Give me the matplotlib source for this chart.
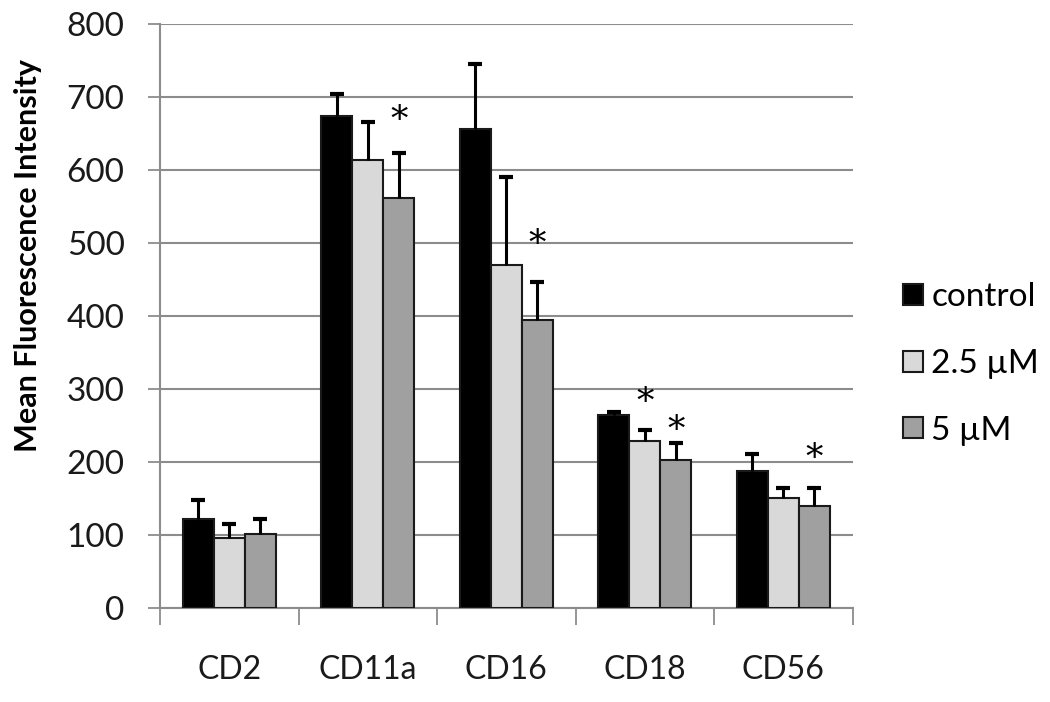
import numpy as np
from matplotlib import pyplot as plt

plt.rcParams['font.family'] = ['Lato', 'DejaVu Sans']

markers = ['CD2', 'CD11a', 'CD16', 'CD18', 'CD56']
groups = ['control', '2.5 µM', '5 µM']
colors = ['#000000', '#d9d9d9', '#a0a0a0']

# mean values per group
mfi = {
    'control': [121, 674, 656, 264, 187],
    '2.5 µM': [95, 614, 470, 229, 150],
    '5 µM': [101, 562, 394, 202, 140],
}
# upper error bar tops
err_top = {
    'control': [147, 704, 745, 268, 210],
    '2.5 µM': [115, 665, 590, 243, 164],
    '5 µM': [122, 623, 446, 226, 164],
}
# significance stars: (marker index, group index, y)
stars = [(1, 2, 667), (2, 2, 497), (3, 1, 281), (3, 2, 242), (4, 2, 204)]

fig = plt.figure(figsize=(10.5, 7.02), dpi=100)
ax = fig.add_axes([0.1524, 0.1343, 0.812 - 0.1524, 0.966 - 0.1343])

x = np.arange(len(markers))
w = 0.224
for i, g in enumerate(groups):
    xp = x + (i - 1) * w
    vals = np.array(mfi[g])
    tops = np.array(err_top[g])
    ax.bar(xp, vals, w, color=colors[i], edgecolor='#1a1a1a',
           linewidth=1.5, label=g, zorder=3)
    # only the upper half of the error bar, with a cap
    ax.vlines(xp, vals, tops, color='black', lw=2.2, zorder=4)
    ax.scatter(xp, tops, marker='_', s=90, linewidths=3, color='black', zorder=4)

for mi, gi, yv in stars:
    ax.text(x[mi] + (gi - 1) * w, yv, '*', ha='center', va='center',
            fontsize=25, family='DejaVu Serif', zorder=5)

ax.set_xlim(-0.5, len(markers) - 0.5)
ax.set_ylim(0, 800)
ax.set_yticks(range(0, 801, 100))
ax.yaxis.grid(True, color='#8c8c8c', lw=1.5, zorder=0)
ax.set_axisbelow(True)

# category boundary ticks
ax.set_xticks(np.arange(-0.5, len(markers)), minor=False)
ax.set_xticklabels([])
ax.set_xticks(x, minor=True)
ax.set_xticklabels(markers, minor=True)
ax.tick_params(axis='x', which='major', length=12, width=1.3, color='#8c8c8c')
ax.tick_params(axis='x', which='minor', length=0, pad=34, labelsize=23,
               labelcolor='#1a1a1a')
ax.tick_params(axis='y', length=8.5, width=1.3, color='#8c8c8c', labelsize=24,
               labelcolor='#1a1a1a', pad=17)

for s in ['top', 'right']:
    ax.spines[s].set_visible(False)
for s in ['left', 'bottom']:
    ax.spines[s].set_color('#8c8c8c')
    ax.spines[s].set_linewidth(1.5)

fig.text(28 / 1050, 1 - 255 / 702, 'Mean Fluorescence Intensity', rotation=90,
         ha='center', va='center', fontsize=22, fontweight='bold')

ax.legend(loc='center left', bbox_to_anchor=(903 / 1050, 1 - 364 / 702),
          bbox_transform=fig.transFigure, frameon=False, borderpad=0,
          borderaxespad=0, fontsize=24, handlelength=0.6, handleheight=0.6,
          handletextpad=0.25, labelspacing=1.1)

fig.savefig('out.png', dpi=100)
